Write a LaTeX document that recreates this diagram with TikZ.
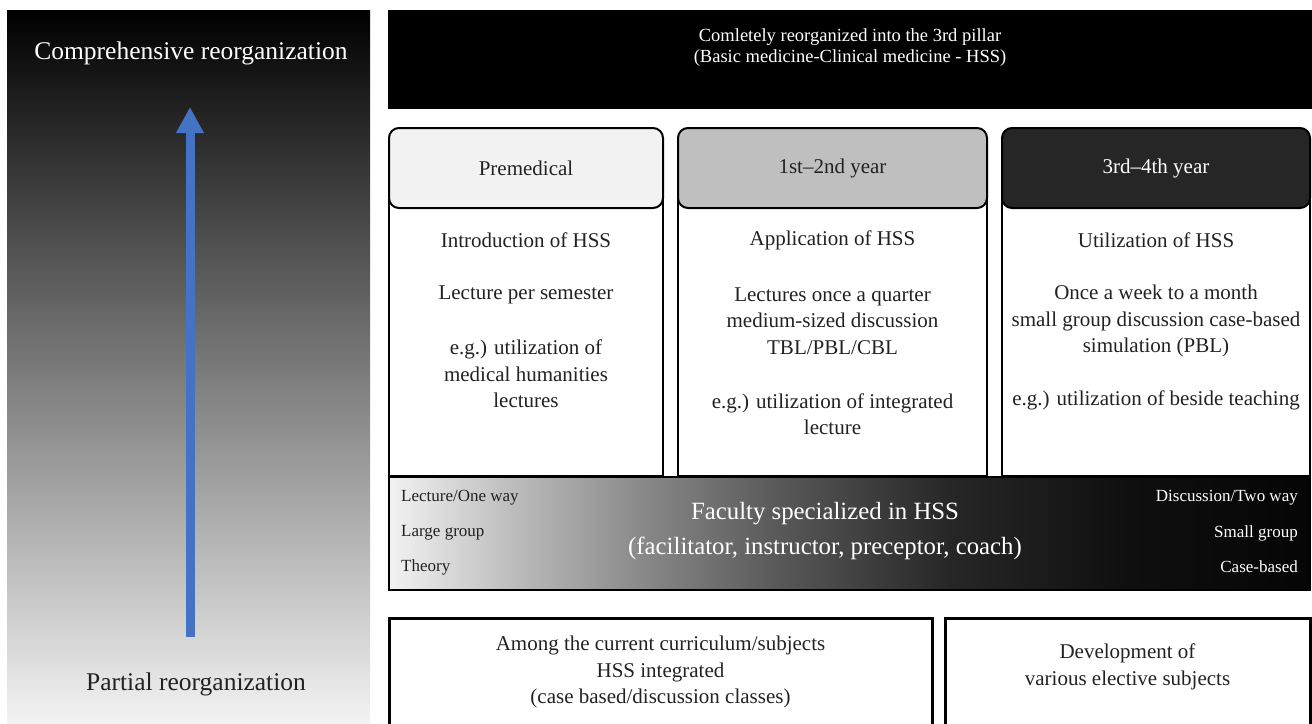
\documentclass[tikz,border=0pt]{standalone}
\usepackage{fontspec}
\setmainfont{Liberation Serif}
\usetikzlibrary{arrows.meta}
\definecolor{hdrA}{HTML}{F2F2F2}
\definecolor{hdrB}{HTML}{BFBFBF}
\definecolor{hdrC}{HTML}{262626}
\definecolor{inkgray}{HTML}{222222}
\definecolor{arrblue}{HTML}{4472C4}
\pgfdeclarehorizontalshading{bandshade}{100bp}{color(0bp)=(black!5); color(25bp)=(black!5);
  color(32bp)=(black!27); color(39bp)=(black!47); color(46bp)=(black!65);
  color(55.5bp)=(black!85); color(65bp)=(black!94); color(75bp)=(black!98); color(100bp)=(black!98)}
\newcommand{\txtsize}[2]{\fontsize{#1}{#2}\selectfont}

\begin{document}
\begin{tikzpicture}[x=1pt, y=-1pt,
  sidepanel/.style={shade, top color=black, bottom color=white!97!black,
    minimum width=363pt, minimum height=726pt, inner sep=0pt},
  topbar/.style={fill=black, minimum width=924pt, minimum height=99pt, inner sep=0pt},
  colbody/.style={draw, line width=2pt, fill=white, minimum height=308pt, inner sep=0pt},
  hdr/.style={draw, line width=2pt, rounded corners=10pt, minimum height=80pt,
    inner sep=0pt, font=\txtsize{21}{25}, text=inkgray},
  coltext/.style={font=\txtsize{21}{26.5}, align=center, text=inkgray},
  bandbox/.style={draw, line width=2pt, shade, shading=bandshade,
    minimum width=921pt, minimum height=113pt, inner sep=0pt},
  sidetext/.style={font=\txtsize{17}{20}, inner sep=0pt},
  lowbox/.style={draw, line width=3pt, minimum height=124pt, inner sep=0pt},
  uparrow/.style={-{Triangle[width=26pt, length=26pt]}, line width=9pt, draw=arrblue},
  every node/.style={font=\txtsize{21}{26.5}}
]
\useasboundingbox (0,0) rectangle (1312,723);

% left scale panel
\node[sidepanel] (side) at (188.5,373) {};
\node[font=\txtsize{25.5}{30}, text=white] (comp) at (191,53) {Comprehensive reorganization};
\node[font=\txtsize{25.5}{30}, text=inkgray] (part) at (196,684) {Partial reorganization};
\coordinate (arrfoot) at (190,637);
\coordinate (arrtip) at (190,107);
\draw[uparrow] (arrfoot) -- (arrtip);

% top bar
\node[topbar] (bar) at (850,59.5) {};
\node[font=\txtsize{18.5}{21}, text=white, align=center] (bartxt) at (850,48)
  {Comletely reorganized into the 3rd pillar\\(Basic medicine-Clinical medicine - HSS)};

% three columns
\node[colbody, minimum width=274pt] (body1) at (526,322) {};
\node[colbody, minimum width=309pt] (body2) at (832.5,322) {};
\node[colbody, minimum width=308pt] (body3) at (1156,322) {};
\node[hdr, fill=hdrA, minimum width=274pt] (head1) at (526,168) {Premedical};
\node[hdr, fill=hdrB, minimum width=309pt] (head2) at (832.5,168) {1st--2nd year};
\node[hdr, fill=hdrC, minimum width=308pt, text=white] (head3) at (1156,168) {3rd--4th year};

\node[coltext] (intro) at (526,240) {Introduction of HSS};
\node[coltext] (lect1) at (526,295) {Lecture per semester};
\node[coltext] (eg1) at (526,374) {e.g.) utilization of\\medical humanities\\lectures};

\node[coltext] (appl) at (832.5,240) {Application of HSS};
\node[coltext] (lect2) at (832.5,321) {Lectures once a quarter\\medium-sized discussion\\TBL/PBL/CBL};
\node[coltext] (eg2) at (832.5,414) {e.g.) utilization of integrated\\lecture};

\node[coltext] (util) at (1156,240) {Utilization of HSS};
\node[coltext] (lect3) at (1156,321) {Once a week to a month\\small group discussion case-based\\simulation (PBL)};
\node[coltext] (eg3) at (1156,400) {e.g.) utilization of beside teaching};

% faculty band
\node[bandbox] (band) at (849.5,533) {};
\node[sidetext, anchor=west, text=inkgray] (oneway) at (401,498) {Lecture/One way};
\node[sidetext, anchor=west, text=inkgray] (large) at (401,533) {Large group};
\node[sidetext, anchor=west, text=inkgray] (theory) at (401,567) {Theory};
\node[sidetext, anchor=east, text=white] (twoway) at (1298,498) {Discussion/Two way};
\node[sidetext, anchor=east, text=white] (small) at (1298,533) {Small group};
\node[sidetext, anchor=east, text=white] (casebased) at (1298,567) {Case-based};
\node[font=\txtsize{24.8}{35}, text=white, align=center] (faculty) at (825,531)
  {Faculty specialized in HSS\\(facilitator, instructor, preceptor, coach)};

% lower boxes
\node[lowbox, minimum width=543pt] (low1) at (660.5,680) {};
\node[lowbox, minimum width=365pt] (low2) at (1127.5,680) {};
\node[coltext] (among) at (660.5,672)
  {Among the current curriculum/subjects\\HSS integrated\\(case based/discussion classes)};
\node[coltext] (elective) at (1127.5,667) {Development of\\various elective subjects};
\end{tikzpicture}
\end{document}
